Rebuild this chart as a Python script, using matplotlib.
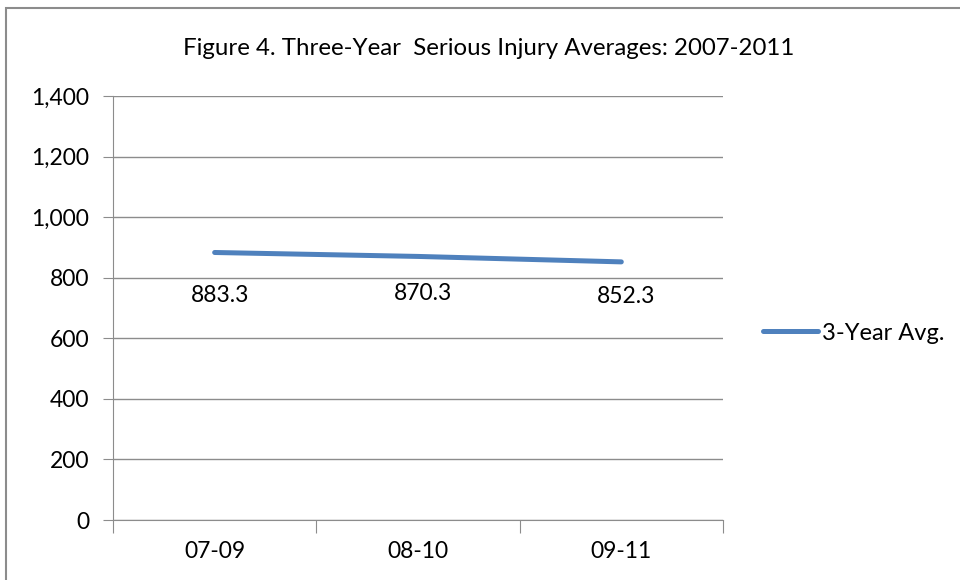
import matplotlib
matplotlib.use("Agg")
import matplotlib.pyplot as plt
from matplotlib.patches import Rectangle
from matplotlib.ticker import FuncFormatter

periods = ["07-09", "08-10", "09-11"]
avg_values = [883.3, 870.3, 852.3]
y_ticks = [0, 200, 400, 600, 800, 1000, 1200, 1400]
# the reference labels sit a little unevenly under the line
label_offsets = [-43, -37, -35]

plt.rcParams['font.family'] = ['Lato', 'DejaVu Sans']

fig = plt.figure(figsize=(9.6, 5.8), dpi=100)
ax = fig.add_axes([0.1177, 0.1034, 0.6354, 0.7311])

# outer chart frame (left/top only visible in the reference)
fig.patches.append(Rectangle((6 / 960, -0.1), 1.2, 1 - 8 / 580 + 0.1,
                             transform=fig.transFigure, fill=False,
                             edgecolor='#8c8c8c', linewidth=1.5))

x = [i + 0.5 for i in range(len(periods))]
ax.plot(x, avg_values, color='#4F81BD', linewidth=3.6, solid_capstyle='round',
        label='3-Year Avg.')

for xi, v, off in zip(x, avg_values, label_offsets):
    ax.annotate(f"{v:.1f}", (xi, v), xytext=(5, off), textcoords='offset pixels',
                ha='center', va='center', fontsize=16.5, color='black')

ax.set_xlim(0, len(periods))
ax.set_ylim(0, 1400)
ax.set_yticks(y_ticks)
ax.yaxis.set_major_formatter(FuncFormatter(lambda v, p: f"{int(v):,}"))
ax.set_xticks(range(len(periods) + 1))
ax.set_xticklabels([])
ax.set_xticks(x, minor=True)
ax.set_xticklabels(periods, minor=True)
ax.tick_params(axis='x', which='major', length=9.5, color='#8c8c8c')
ax.tick_params(axis='x', which='minor', length=0, pad=15, labelsize=16.5)
ax.tick_params(axis='y', length=7, color='#8c8c8c', labelsize=16.5, pad=10)

ax.grid(axis='y', color='#8c8c8c', linewidth=1)
ax.set_axisbelow(True)
for s in ['top', 'right']:
    ax.spines[s].set_visible(False)
for s in ['left', 'bottom']:
    ax.spines[s].set_color('#8c8c8c')

fig.text(0.509, 0.917, "Figure 4. Three-Year  Serious Injury Averages: 2007-2011",
         ha='center', va='center', fontsize=17.3)

ax.legend(loc='center left', bbox_to_anchor=(1.0656, 0.441), frameon=False,
          fontsize=17, handlelength=2.33, handletextpad=0.17,
          borderpad=0, borderaxespad=0)

fig.savefig("out.png", dpi=100)
